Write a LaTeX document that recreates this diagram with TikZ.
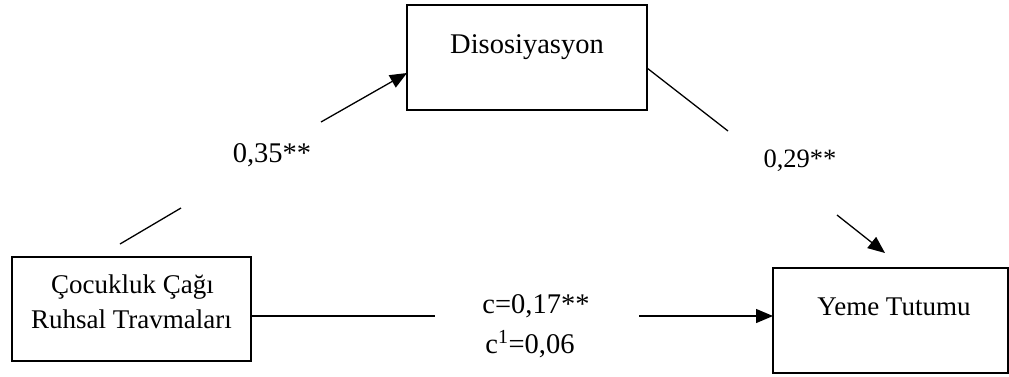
\documentclass[tikz,border=0pt]{standalone}
\usepackage{fontspec}
\setmainfont{Liberation Serif}
\usetikzlibrary{arrows.meta}
\begin{document}
\begin{tikzpicture}[x=1pt,y=-1pt,
  box/.style={draw, line width=1.2pt, inner sep=0pt, outer sep=0pt},
  txt/.style={inner sep=0pt, anchor=base, font=\fontsize{27}{32}\selectfont},
  conn/.style={line width=1.3pt},
  arr/.style={line width=1.3pt, -{Triangle[length=17pt,width=14pt]}}]
\useasboundingbox (0,0) rectangle (1009,376);
% boxes
\node[box, minimum width=240pt, minimum height=105pt] (dis) at (527,57.5) {};
\node[box, minimum width=239pt, minimum height=104pt] (ccr) at (131.5,309) {};
\node[box, minimum width=235pt, minimum height=105pt] (yeme) at (890.5,320.5) {};
% box texts
\node[txt, font=\fontsize{28.5}{32}\selectfont] (distxt) at (527,53) {Disosiyasyon};
\node[txt] (ccr1) at (132.5,293) {Çocukluk Çağı};
\node[txt] (ccr2) at (131.5,328) {Ruhsal Travmaları};
\node[txt] (yemetxt) at (894,315) {Yeme Tutumu};
% labels
\node[txt, font=\fontsize{28.5}{32}\selectfont] (la) at (272,162) {0,35**};
\node[txt, font=\fontsize{26.5}{32}\selectfont] (lb) at (800,167) {0,29**};
\node[txt, font=\fontsize{28.5}{32}\selectfont] (lc) at (536,313) {c=0,17**};
\node[txt, font=\fontsize{28.5}{32}\selectfont] (lc1) at (530,353) {c\textsuperscript{1}=0,06};
% free ends
\coordinate (a0s) at (120,244);
\coordinate (a0e) at (181,208);
\coordinate (a1s) at (321,122);
\coordinate (b0e) at (728,131);
\coordinate (b1s) at (837,215);
\coordinate (b1e) at (885,253);
\coordinate (c0e) at (435,316);
\coordinate (c1s) at (639,316);
% connectors
\draw[conn] (a0s) -- (a0e);
\draw[arr] (a1s) -- ([yshift=-15.5pt]dis.west);
\draw[conn] ([yshift=-10.5pt]dis.east) -- (b0e);
\draw[arr] (b1s) -- (b1e);
\draw[conn] ([yshift=-7pt]ccr.east) -- (c0e);
\draw[arr] (c1s) -- ([yshift=4.5pt]yeme.west);
\end{tikzpicture}
\end{document}
